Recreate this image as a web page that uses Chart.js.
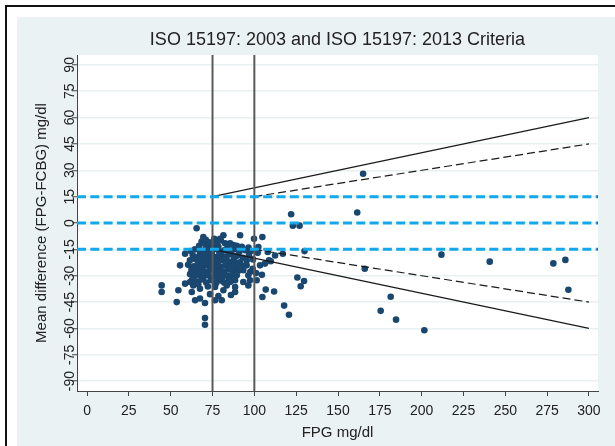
<!DOCTYPE html>
<html>
<head>
<meta charset="utf-8">
<script src="https://cdn.jsdelivr.net/npm/chart.js@4.4.1/dist/chart.umd.min.js"></script>
<style>
  html, body { margin: 0; padding: 0; background: #fff; }
  #wrap { width: 615px; height: 446px; }
</style>
</head>
<body>
<div id="wrap"><canvas id="myChart" width="615" height="446"></canvas></div>
<script>
// FPG (x) and mean difference FPG-FCBG (y)
const fpg = [
  65.5, 69.5, 68.5, 70.5, 67, 72.5, 74, 75.5, 77.5, 79.5, 81.5, 80, 82.5, 78.5, 85.5, 84, 87.5, 91.5, 89.5, 92.5, 99.8, 104.8, 102.4, 96.5, 71, 76, 73,
  62, 64.5, 67.5, 70, 73, 76, 79, 82, 85, 88, 91, 94.5, 98, 58.6, 102, 108, 117, 130, 112.4,
  63.2, 66.8, 69.4, 71.9, 74.6, 77.3, 80.1, 83.4, 86.2, 89.7, 93.1, 96.8,
  61.5, 64.9, 67.6, 70.3, 73.2, 75.8, 78.6, 81.2, 84.7, 87.9, 91.4, 95.4, 99.2,
  60.4, 63.7, 66.3, 69.1, 71.7, 74.2, 76.9, 79.7, 82.6, 85.3, 88.6, 92.2, 95.4, 55.6,
  62.4, 65.1, 67.9, 70.8, 73.6, 76.4, 79.1, 81.8, 84.5, 87.2, 90.4, 93.4, 97.6, 103.4, 106.4, 108.8, 109.8,
  61.6, 64.3, 66.9, 69.5, 72.4, 75.1, 77.8, 80.6, 83.9, 86.8, 89.5, 96.4, 101, 104.5, 99,
  62.7, 65.8, 68.4, 71.2, 74, 77.2, 80.4, 84.1, 88.5, 93.4, 97.4, 101.4, 61.6, 58.6,
  63.5, 66.5, 72.2, 76.5, 83.5, 88.5, 96.4,
  68, 72, 75, 78, 80, 83, 86, 70, 73, 76, 79, 82, 85, 74, 77, 71, 88, 90, 67, 69, 78, 82, 86,
  44.6, 44.6, 54.6, 53.6, 62.6, 67.5, 64.6, 67.5, 70.5, 76.5, 80.5, 70.5, 70.5, 81.5, 88.5, 85.5, 73.5, 78.5, 86, 104.8, 106.8, 111.8, 117.8, 120.7, 125.7, 129.7, 127.7,
  122, 123, 127, 161.5, 165, 166, 211.8, 240.7, 278.7, 285.9, 287.7, 181.5, 175.5, 184.7, 201.6
];
const diff = [
  -3, -8, -10.5, -12, -13, -13.5, -12, -13, -11, -9, -7, -10, -11.5, -13.5, -11.5, -13.5, -12.5, -7, -13, -13.5, -9, -8, -13.7, -14, -9.5, -9, -11,
  -16, -15, -16.5, -15.5, -16, -15, -16.5, -15.5, -16, -15, -16.5, -15.5, -16, -17.5, -17, -16.5, -17.5, -16, -18.5,
  -18.4, -19.1, -17.8, -18.9, -17.6, -19.4, -18.2, -19, -17.9, -18.6, -19.8, -18.3,
  -21.2, -20.6, -22.3, -20.9, -21.7, -20.4, -22.1, -20.8, -21.9, -20.5, -22.4, -21.3, -20.7,
  -23.8, -24.6, -23.4, -25.2, -23.9, -24.8, -23.3, -25.1, -24.2, -23.6, -25.3, -24.1, -24.1, -24.1,
  -26.7, -27.5, -26.2, -27.9, -26.6, -28.1, -26.9, -27.6, -26.4, -28.3, -27.2, -26.9, -27.8, -24.1, -23.1, -21.2, -21.8,
  -29.1, -30.2, -29.4, -31.1, -29.8, -30.6, -29.2, -31.3, -30.1, -29.5, -29.8, -29.8, -28.5, -29.5, -26,
  -32.4, -33.3, -32.1, -33.9, -32.6, -34.1, -32.8, -33.6, -32.6, -33.6, -32.6, -32.6, -33.6, -34.5,
  -35.5, -34.8, -36.1, -36.4, -35.5, -36.4, -35.5,
  -21, -23, -22.5, -24, -21, -23, -25, -24, -27, -25.5, -28, -29, -31, -19.5, -21, -19, -22, -24.5, -25, -28, -32, -34, -33,
  -35.5, -39.3, -38.3, -45, -39.3, -37.4, -44, -43, -45.5, -44, -44, -54.1, -57.9, -38.3, -39.3, -33.6, -40.5, -41.5, -41, -42.1, -37.9, -39, -47, -52.2, -31, -33, -36,
  5, -1.5, -1.5, 6, 28, -26, -18, -22, -23, -21, -38, -42, -50, -55, -61
];

const xTicks = [0, 25, 50, 75, 100, 125, 150, 175, 200, 225, 250, 275, 300];
const yTicks = [-90, -75, -60, -45, -30, -15, 0, 15, 30, 45, 60, 75, 90];
const xRange = [-6, 305.4];
const yRange = [-95.6, 95.6];

// ISO 15197 limits
const cutoffs = [75, 100];
const flatLimits = [15, 0, -15];
const iso2003X = [75, 300];
const iso2003Upper = [15, 60];
const iso2003Lower = [-15, -60];
const iso2013X = [100, 300];
const iso2013Upper = [15, 45];
const iso2013Lower = [-15, -45];

const FONT = '"Liberation Sans", Arial, sans-serif';
const TEXT = '#222';

function pairs(xs, ys) {
  return xs.map((x, i) => ({ x: x, y: ys[i] }));
}

function lineSet(xs, ys, color, width, dash, order) {
  return {
    type: 'line',
    data: pairs(xs, ys),
    borderColor: color,
    borderWidth: width,
    borderDash: dash || [],
    pointRadius: 0,
    fill: false,
    order: order || 0
  };
}

const datasets = [];
datasets.push({
  type: 'scatter',
  data: pairs(fpg, diff),
  backgroundColor: '#1A476F',
  borderWidth: 0,
  pointRadius: 3.3,
  order: 2
});
cutoffs.forEach(c => datasets.push(lineSet([c, c], yRange, '#5a5a5a', 2)));
datasets.push(lineSet(iso2003X, iso2003Upper, '#1a1a1a', 1.2));
datasets.push(lineSet(iso2003X, iso2003Lower, '#1a1a1a', 1.2));
datasets.push(lineSet(iso2013X, iso2013Upper, '#1a1a1a', 1.2, [8, 4]));
datasets.push(lineSet(iso2013X, iso2013Lower, '#1a1a1a', 1.2, [8, 4]));
// blue limits go on top of everything else
flatLimits.forEach(v => {
  const d = lineSet(xRange, [v, v], '#12A8EA', 3, [9, 4.3], -1);
  d.pointRadius = [0, 1.3];
  d.pointBackgroundColor = '#d0204a';
  d.pointBorderWidth = 0;
  datasets.push(d);
});

const background = {
  id: 'background',
  beforeDraw(chart) {
    const c = chart.ctx, a = chart.chartArea;
    c.save();
    c.fillStyle = '#fff';
    c.fillRect(0, 0, chart.width, chart.height);
    c.fillStyle = '#111';
    c.fillRect(5, 5, chart.width - 5, 2);
    c.fillRect(5, 5, 2, chart.height - 5);
    c.fillStyle = '#EAF2F3';
    c.fillRect(17, 17, chart.width - 17, chart.height - 17);
    c.fillStyle = '#fff';
    c.fillRect(a.left, a.top, a.right - a.left, a.bottom - a.top);
    c.restore();
  }
};

// title, rotated y tick labels and y title
const texts = {
  id: 'texts',
  afterDraw(chart) {
    const c = chart.ctx, a = chart.chartArea, ys = chart.scales.y;
    c.save();
    c.fillStyle = TEXT;
    c.font = '18px ' + FONT;
    c.textAlign = 'center';
    c.textBaseline = 'alphabetic';
    c.fillText('ISO 15197: 2003 and ISO 15197: 2013 Criteria', (a.left + a.right) / 2, 44.5);

    c.font = '14px ' + FONT;
    yTicks.forEach(v => {
      c.save();
      c.translate(73.5, ys.getPixelForValue(v));
      c.rotate(-Math.PI / 2);
      c.fillText(String(v), 0, 0);
      c.restore();
    });

    c.font = '15px ' + FONT;
    c.translate(45.5, (a.top + a.bottom) / 2);
    c.rotate(-Math.PI / 2);
    c.fillText('Mean difference (FPG-FCBG) mg/dl', 0, 0);
    c.restore();
  }
};

const ctx = document.getElementById('myChart').getContext('2d');
new Chart(ctx, {
  type: 'scatter',
  data: { datasets: datasets },
  options: {
    responsive: false,
    animation: false,
    events: [],
    layout: { padding: { top: 55, right: 17, left: 17, bottom: 0 } },
    plugins: { legend: { display: false }, tooltip: { enabled: false }, title: { display: false } },
    scales: {
      x: {
        type: 'linear',
        min: xRange[0],
        max: xRange[1],
        afterBuildTicks: s => { s.ticks = xTicks.map(v => ({ value: v })); },
        afterFit: s => { s.height = 55; },
        grid: { drawOnChartArea: false, drawTicks: true, tickLength: 5, tickColor: '#444', tickWidth: 1 },
        border: { color: '#444', width: 1 },
        ticks: { padding: 7, color: TEXT, font: { family: FONT, size: 14 }, maxRotation: 0, autoSkip: false },
        title: { display: true, text: 'FPG mg/dl', color: TEXT, font: { family: FONT, size: 15 }, padding: { top: 0, bottom: 4 } }
      },
      y: {
        type: 'linear',
        min: yRange[0],
        max: yRange[1],
        afterBuildTicks: s => { s.ticks = yTicks.map(v => ({ value: v })); },
        afterFit: s => { s.width = 60; },
        grid: { color: '#E8F0F2', lineWidth: 1.5, drawTicks: true, tickLength: 5, tickColor: '#444', tickWidth: 1 },
        border: { color: '#444', width: 1 },
        ticks: { color: 'rgba(0,0,0,0)', font: { family: FONT, size: 14 } }
      }
    }
  },
  plugins: [background, texts]
});
</script>
</body>
</html>
